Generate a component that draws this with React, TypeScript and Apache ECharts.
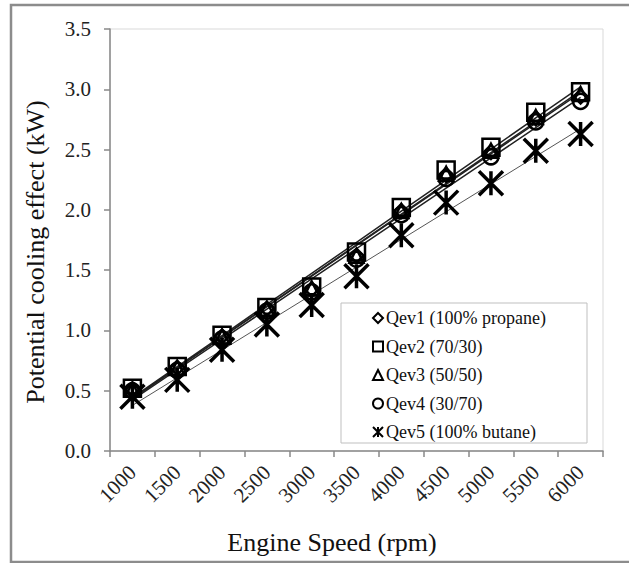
import React, { useEffect, useRef } from "react";
import * as echarts from "echarts";

const categories = ["1000", "1500", "2000", "2500", "3000", "3500", "4000", "4500", "5000", "5500", "6000"];
const qev1 = [0.51, 0.69, 0.95, 1.18, 1.34, 1.62, 1.99, 2.29, 2.48, 2.76, 2.94];
const qev2 = [0.52, 0.70, 0.96, 1.19, 1.36, 1.65, 2.02, 2.33, 2.52, 2.81, 2.98];
const qev3 = [0.51, 0.69, 0.95, 1.18, 1.35, 1.62, 1.99, 2.30, 2.49, 2.77, 2.96];
const qev4 = [0.50, 0.67, 0.93, 1.16, 1.32, 1.59, 1.96, 2.26, 2.44, 2.73, 2.90];
const qev5 = [0.45, 0.59, 0.84, 1.05, 1.21, 1.45, 1.79, 2.06, 2.22, 2.49, 2.63];
const seriesNames = ["Qev1 (100% propane)", "Qev2 (70/30)", "Qev3 (50/50)", "Qev4 (30/70)", "Qev5 (100% butane)"];

const FONT = "Liberation Serif";
const STAR = "path://M0,0L10,10M10,0L0,10M5,0L5,10";

// linear trendline (least squares) derived from a series' values
function trend(values: number[]): number[] {
  const n = values.length;
  let sx = 0, sy = 0, sxx = 0, sxy = 0;
  values.forEach((v, i) => { sx += i; sy += v; sxx += i * i; sxy += i * v; });
  const b = (n * sxy - sx * sy) / (n * sxx - sx * sx);
  const a = (sy - b * sx) / n;
  return values.map((_, i) => a + b * i);
}

export default function App() {
  const ref = useRef<HTMLDivElement>(null);
  useEffect(() => {
    if (!ref.current) return;
    const chart = echarts.init(ref.current, null, { renderer: "svg" });
    const mk = (name: string, data: number[], symbol: string, size: number, bw: number) => ({
      name,
      type: "line",
      data,
      symbol,
      symbolSize: size,
      showSymbol: true,
      lineStyle: { width: 0, opacity: 0 },
      itemStyle: { color: "rgba(0,0,0,0)", borderColor: "#000", borderWidth: bw },
      emphasis: { disabled: true },
      z: 3,
    });
    const tl = (data: number[], w: number, c: string) => ({
      name: "trend",
      type: "line",
      data: trend(data),
      symbol: "none",
      lineStyle: { color: c, width: w },
      emphasis: { disabled: true },
      silent: true,
      z: 2,
    });
    chart.setOption({
      animation: false,
      backgroundColor: "#fff",
      textStyle: { fontFamily: FONT },
      grid: { left: 110, right: 26, top: 29, bottom: 112, show: true, borderColor: "#d9d9d9", borderWidth: 1 },
      xAxis: {
        type: "category",
        data: categories,
        boundaryGap: true,
        axisLine: { lineStyle: { color: "#888", width: 1.5 } },
        axisTick: { show: true, length: 6, lineStyle: { color: "#888", width: 1.5 } },
        axisLabel: { rotate: 45, interval: 0, margin: 18, fontSize: 21, fontFamily: FONT, color: "#222" },
        splitLine: { show: false },
      },
      yAxis: {
        type: "value",
        min: 0,
        max: 3.5,
        interval: 0.5,
        axisLine: { show: true, lineStyle: { color: "#888", width: 1.5 } },
        axisTick: { show: true, length: 6, lineStyle: { color: "#888", width: 1.5 } },
        axisLabel: { margin: 19, fontSize: 21, fontFamily: FONT, color: "#222", formatter: (v: number) => v.toFixed(1) },
        splitLine: { show: false },
      },
      legend: {
        orient: "vertical",
        left: 372,
        top: 309,
        padding: 0,
        itemWidth: 10,
        itemHeight: 10,
        itemGap: 10.5,
        textStyle: { fontSize: 18, fontFamily: FONT, color: "#111", lineHeight: 18, padding: [0, 0, 0, -2] },
        itemStyle: { color: "rgba(0,0,0,0)", borderColor: "#000", borderWidth: 2 },
        data: [
          { name: seriesNames[0], icon: "diamond" },
          { name: seriesNames[1], icon: "rect" },
          { name: seriesNames[2], icon: "triangle" },
          { name: seriesNames[3], icon: "circle" },
          { name: seriesNames[4], icon: STAR },
        ],
        z: 5,
      },
      graphic: [
        { type: "rect", shape: { x: 11, y: 5, width: 640, height: 557 }, style: { fill: "none", stroke: "#8c8c8c", lineWidth: 2.5 }, z: 0, silent: true },
        { type: "rect", shape: { x: 341, y: 303, width: 246, height: 140 }, style: { fill: "#fff", stroke: "#bfbfbf", lineWidth: 1 }, z: 4, silent: true },
        { type: "text", x: 35, y: 252, rotation: Math.PI / 2, style: { text: "Potential cooling effect (kW)", fontSize: 26, fontFamily: FONT, fill: "#111", align: "center", verticalAlign: "middle" }, silent: true },
        { type: "text", x: 332, y: 542, style: { text: "Engine Speed (rpm)", fontSize: 26, fontFamily: FONT, fill: "#111", align: "center", verticalAlign: "middle" }, silent: true },
      ],
      series: [
        tl(qev1, 1.5, "#222"),
        tl(qev2, 1.5, "#222"),
        tl(qev3, 1.5, "#222"),
        tl(qev4, 1.5, "#222"),
        tl(qev5, 1, "#555"),
        mk(seriesNames[0], qev1, "diamond", 14, 2.5),
        mk(seriesNames[1], qev2, "rect", 17, 2.5),
        mk(seriesNames[2], qev3, "triangle", 14, 2.5),
        mk(seriesNames[3], qev4, "circle", 15, 2.5),
        mk(seriesNames[4], qev5, STAR, 24, 3.5),
      ],
    });
    return () => chart.dispose();
  }, []);
  return <div ref={ref} style={{ position: "fixed", left: 0, top: 0, width: 629, height: 563 }} />;
}
